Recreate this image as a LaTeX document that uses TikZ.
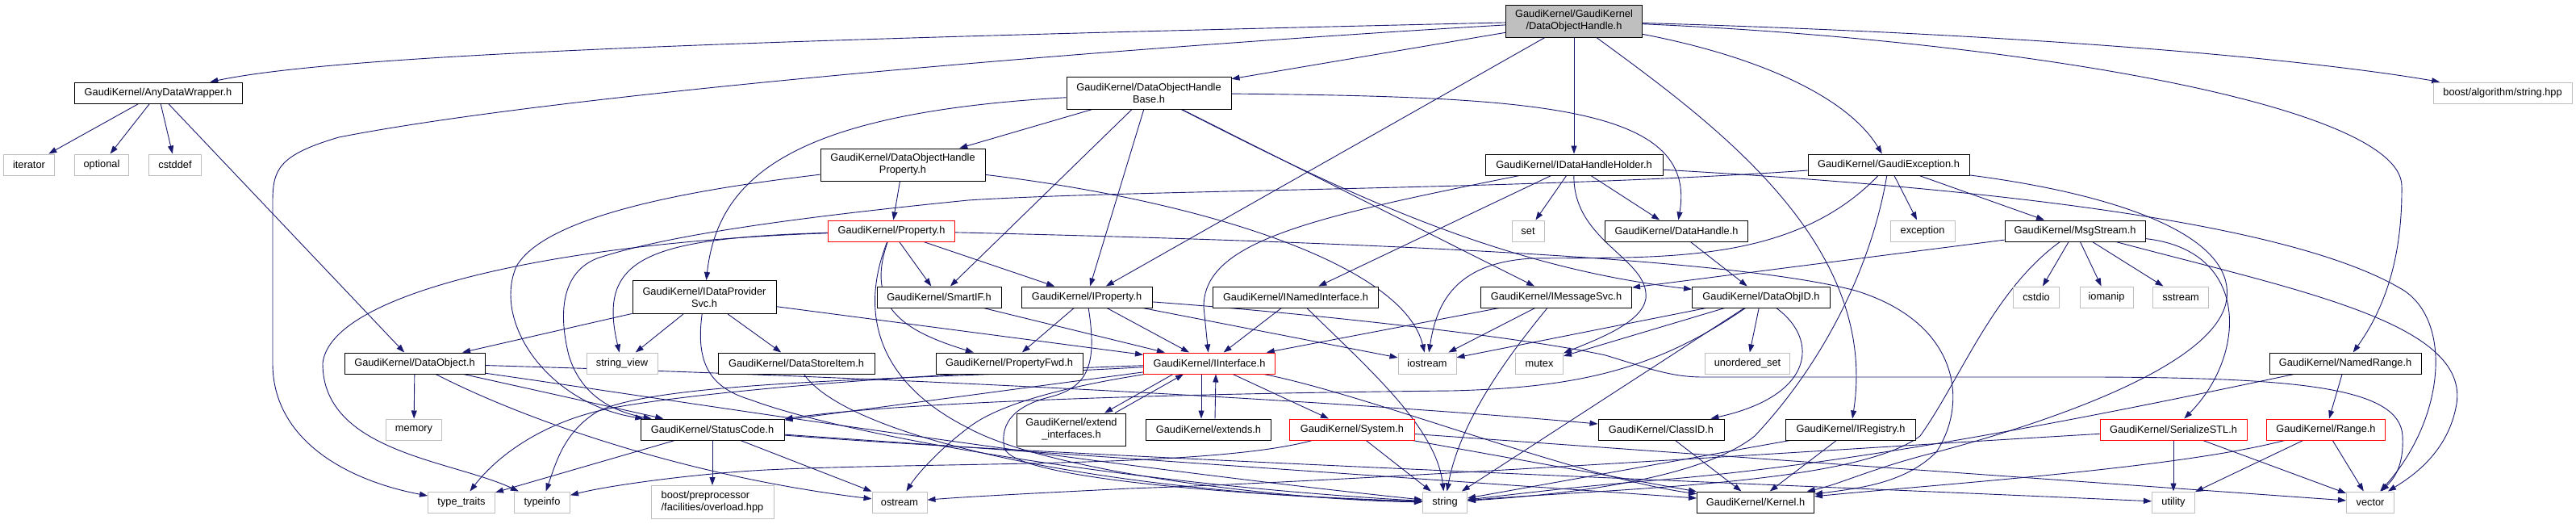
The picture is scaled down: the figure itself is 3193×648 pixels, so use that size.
\documentclass[tikz,border=0pt]{standalone}
\usepackage{fontspec}
\setmainfont{Liberation Sans}
\usetikzlibrary{arrows.meta,backgrounds}
\definecolor{edgecol}{HTML}{191970}
\definecolor{greyb}{HTML}{BFBFBF}
\definecolor{redb}{HTML}{FF0000}
\tikzset{
 box/.style={draw, line width=1pt, fill=white, inner sep=0pt, align=center, minimum height=26pt, font=\fontsize{12.8}{15}\selectfont},
 dnode/.style={box, draw=black},
 rnode/.style={box, draw=redb},
 gnode/.style={box, draw=greyb},
 mnode/.style={box, draw=black, fill=greyb},
 conn/.style={draw=edgecol, line width=0.9pt, -{Triangle[length=10pt,width=7pt]}},
}
\begin{document}
\begin{tikzpicture}[x=1pt,y=-1pt]
\useasboundingbox (0,0) rectangle (3193,648);
% row 1
\node[mnode, minimum width=169pt, minimum height=40pt] (main) at (1951,26) {GaudiKernel/GaudiKernel\\/DataObjectHandle.h};
% row 2
\node[dnode, minimum width=208pt] (adw) at (196,115) {GaudiKernel/AnyDataWrapper.h};
\node[dnode, minimum width=204pt, minimum height=40pt] (dohb) at (1424,115) {GaudiKernel/DataObjectHandle\\Base.h};
\node[gnode, minimum width=172pt] (boostalg) at (3102,115) {boost/algorithm/string.hpp};
% row 3
\node[gnode, minimum width=63pt] (iterator) at (36,204) {iterator};
\node[gnode, minimum width=67pt] (optional) at (126,204) {optional};
\node[gnode, minimum width=65pt] (cstddef) at (217,204) {cstddef};
\node[dnode, minimum width=204pt, minimum height=40pt] (dohp) at (1119,204) {GaudiKernel/DataObjectHandle\\Property.h};
\node[dnode, minimum width=220pt] (idhh) at (1951,204) {GaudiKernel/IDataHandleHolder.h};
\node[dnode, minimum width=200pt] (gexc) at (2341,204) {GaudiKernel/GaudiException.h};
% row 4
\node[rnode, minimum width=157pt] (property) at (1105,286) {GaudiKernel/Property.h};
\node[gnode, minimum width=40pt] (set) at (1894,286) {set};
\node[dnode, minimum width=177pt] (datahandle) at (2078,286) {GaudiKernel/DataHandle.h};
\node[gnode, minimum width=80pt] (exception) at (2383,286) {exception};
\node[dnode, minimum width=174pt] (msgstream) at (2572,286) {GaudiKernel/MsgStream.h};
% row 5
\node[dnode, minimum width=178pt, minimum height=41pt] (idps) at (873,368) {GaudiKernel/IDataProvider\\Svc.h};
\node[dnode, minimum width=154pt] (smartif) at (1164,368) {GaudiKernel/SmartIF.h};
\node[dnode, minimum width=162pt] (iproperty) at (1347,368) {GaudiKernel/IProperty.h};
\node[dnode, minimum width=205pt] (inamed) at (1606,368) {GaudiKernel/INamedInterface.h};
\node[dnode, minimum width=187pt] (imsgsvc) at (1929,368) {GaudiKernel/IMessageSvc.h};
\node[dnode, minimum width=171pt] (dataobjid) at (2183,368) {GaudiKernel/DataObjID.h};
\node[gnode, minimum width=57pt] (cstdio) at (2524,368) {cstdio};
\node[gnode, minimum width=66pt] (iomanip) at (2611,368) {iomanip};
\node[gnode, minimum width=69pt] (sstream) at (2703,368) {sstream};
% row 6
\node[dnode, minimum width=174pt] (dataobject) at (514,450) {GaudiKernel/DataObject.h};
\node[gnode, minimum width=88pt] (stringview) at (771,450) {string\_view};
\node[dnode, minimum width=194pt] (datastoreitem) at (987,450) {GaudiKernel/DataStoreItem.h};
\node[dnode, minimum width=182pt] (propertyfwd) at (1251,450) {GaudiKernel/PropertyFwd.h};
\node[rnode, minimum width=163pt] (iinterface) at (1499,450) {GaudiKernel/IInterface.h};
\node[gnode, minimum width=72pt] (iostream) at (1769,450) {iostream};
\node[gnode, minimum width=59pt] (mutex) at (1908,450) {mutex};
\node[gnode, minimum width=105pt] (unorderedset) at (2166,450) {unordered\_set};
\node[dnode, minimum width=188pt] (namedrange) at (2907,450) {GaudiKernel/NamedRange.h};
% row 7
\node[gnode, minimum width=69pt] (memory) at (513,532) {memory};
\node[dnode, minimum width=178pt] (statuscode) at (883,532) {GaudiKernel/StatusCode.h};
\node[dnode, minimum width=135pt, minimum height=40pt] (extendif) at (1328,532) {GaudiKernel/extend\\\_interfaces.h};
\node[dnode, minimum width=155pt] (extends) at (1498,532) {GaudiKernel/extends.h};
\node[rnode, minimum width=155pt] (system) at (1676,532) {GaudiKernel/System.h};
\node[dnode, minimum width=156pt] (classid) at (2059,532) {GaudiKernel/ClassID.h};
\node[dnode, minimum width=161pt] (iregistry) at (2294,532) {GaudiKernel/IRegistry.h};
\node[rnode, minimum width=182pt] (serializestl) at (2694,532) {GaudiKernel/SerializeSTL.h};
\node[rnode, minimum width=147pt] (range) at (2883,532) {GaudiKernel/Range.h};
% row 8
\node[gnode, minimum width=83pt] (typetraits) at (572,622) {type\_traits};
\node[gnode, minimum width=69pt] (typeinfo) at (672,622) {typeinfo};
\node[gnode, minimum width=152pt, minimum height=41pt, align=left] (boostpp) at (883,622) {boost/preprocessor\\/facilities/overload.hpp};
\node[gnode, minimum width=68pt] (ostream) at (1115,622) {ostream};
\node[gnode, minimum width=55pt] (string) at (1791,622) {string};
\node[dnode, minimum width=145pt] (kernel) at (2176,622) {GaudiKernel/Kernel.h};
\node[gnode, minimum width=53pt] (utility) at (2694,622) {utility};
\node[gnode, minimum width=59pt] (vector) at (2938,622) {vector};

\begin{scope}[on background layer]
% main
\draw[conn] (main) .. controls (900,50) and (420,68) .. (adw);
\draw[conn] (main) -- (dohb);
\draw[conn] (main) .. controls (2600,45) and (2900,80) .. (boostalg);
\draw[conn] (main) .. controls (1400,58) and (700,115) .. (420,170) .. controls (345,192) and (338,210) .. (338,250) -- (338,450) .. controls (338,545) and (430,595) .. (typetraits);
\draw[conn] (main) -- (iproperty);
\draw[conn] (main) -- (idhh);
\draw[conn] (main) .. controls (2120,150) and (2330,300) .. (iregistry);
\draw[conn] (main) .. controls (2180,70) and (2290,120) .. (gexc);
\draw[conn] (main) .. controls (2500,50) and (2975,130) .. (2977,230) .. controls (2978,330) and (2950,390) .. (namedrange);
% AnyDataWrapper
\draw[conn] (adw) -- (iterator);
\draw[conn] (adw) -- (optional);
\draw[conn] (adw) -- (cstddef);
\draw[conn] (adw) -- (dataobject);
% DataObjectHandleBase
\draw[conn] (dohb) -- (dohp);
\draw[conn] (dohb) .. controls (980,140) and (890,220) .. (idps);
\draw[conn] (dohb) -- (smartif);
\draw[conn] (dohb) -- (iproperty);
\draw[conn] (dohb) -- (imsgsvc);
\draw[conn] (dohb) .. controls (1650,230) and (1850,330) .. (dataobjid);
\draw[conn] (dohb) .. controls (1900,120) and (2105,130) .. (datahandle);
% DataObjectHandleProperty
\draw[conn] (dohp) -- (property);
\draw[conn] (dohp) .. controls (900,230) and (680,260) .. (640,330) .. controls (610,400) and (680,500) .. (statuscode);
\draw[conn] (dohp) .. controls (1500,250) and (1740,330) .. (iostream);
% Property
\draw[conn] (property) -- (smartif);
\draw[conn] (property) -- (iproperty);
\draw[conn] (property) .. controls (1072,380) and (1120,410) .. (propertyfwd);
\draw[conn] (property) .. controls (1060,400) and (1100,480) .. (1200,530) .. controls (1300,585) and (1600,620) .. (string);
\draw[conn] (property) .. controls (800,295) and (740,320) .. (stringview);
\draw[conn] (property) .. controls (700,300) and (410,360) .. (400,450) .. controls (400,560) and (560,570) .. (typeinfo);
\draw[conn] (property) .. controls (1700,300) and (2150,320) .. (2300,360) .. controls (2430,400) and (2440,500) .. (2400,560) .. controls (2360,600) and (2300,605) .. (kernel);
% IDataHandleHolder
\draw[conn] (idhh) -- (inamed);
\draw[conn] (idhh) -- (set);
\draw[conn] (idhh) -- (datahandle);
\draw[conn] (idhh) .. controls (1620,270) and (1492,300) .. (1492,380) -- (iinterface);
\draw[conn] (idhh) .. controls (1950,300) and (2045,320) .. (2040,370) .. controls (2035,400) and (1980,420) .. (mutex);
\draw[conn] (idhh) .. controls (2500,235) and (2850,280) .. (2980,360) .. controls (3040,400) and (3030,520) .. (vector);
% GaudiException
\draw[conn] (gexc) -- (exception);
\draw[conn] (gexc) -- (msgstream);
\draw[conn] (gexc) .. controls (2220,330) and (2050,318) .. (1900,320) .. controls (1800,325) and (1780,380) .. (iostream);
\draw[conn] (gexc) .. controls (2320,330) and (2260,450) .. (2175,540) .. controls (2100,600) and (1900,615) .. (string);
\draw[conn] (gexc) .. controls (2620,240) and (2770,290) .. (2760,370) .. controls (2750,450) and (2550,520) .. (2400,560) .. controls (2320,580) and (2280,600) .. (kernel);
\draw[conn] (gexc) .. controls (1900,235) and (1400,235) .. (1200,248) .. controls (1000,268) and (830,290) .. (740,320) .. controls (690,340) and (695,400) .. (705,440) .. controls (720,490) and (760,510) .. (statuscode);
% DataHandle
\draw[conn] (datahandle) -- (dataobjid);
% MsgStream
\draw[conn] (msgstream) -- (imsgsvc);
\draw[conn] (msgstream) -- (cstdio);
\draw[conn] (msgstream) -- (iomanip);
\draw[conn] (msgstream) -- (sstream);
\draw[conn] (msgstream) .. controls (2790,310) and (2785,440) .. (serializestl);
\draw[conn] (msgstream) .. controls (2850,360) and (3060,400) .. (3045,500) .. controls (3035,560) and (2990,590) .. (vector);
\draw[conn] (msgstream) .. controls (2470,360) and (2430,470) .. (2380,540) .. controls (2300,600) and (2000,605) .. (string);
% IDataProviderSvc
\draw[conn] (idps) -- (dataobject);
\draw[conn] (idps) -- (stringview);
\draw[conn] (idps) -- (datastoreitem);
\draw[conn] (idps) -- (iinterface);
\draw[conn] (idps) .. controls (862,450) and (880,480) .. (930,495) .. controls (1050,540) and (1400,600) .. (string);
% SmartIF
\draw[conn] (smartif) -- (iinterface);
% IProperty
\draw[conn] (iproperty) -- (propertyfwd);
\draw[conn] (iproperty) -- (iinterface);
\draw[conn] (iproperty) -- (iostream);
\draw[conn] (iproperty) .. controls (1650,390) and (1900,420) .. (1990,440) .. controls (2040,455) and (2070,467) .. (2110,467) -- (2600,467) .. controls (2850,468) and (2975,480) .. (2978,540) .. controls (2980,580) and (2965,595) .. (vector);
\draw[conn] (iproperty) .. controls (1360,450) and (1350,480) .. (1300,492) .. controls (1250,505) and (1240,530) .. (1245,555) .. controls (1255,590) and (1500,612) .. (string);
% INamedInterface
\draw[conn] (inamed) -- (iinterface);
\draw[conn] (inamed) .. controls (1700,460) and (1780,530) .. (string);
% IMessageSvc
\draw[conn] (imsgsvc) -- (iinterface);
\draw[conn] (imsgsvc) -- (iostream);
\draw[conn] (imsgsvc) .. controls (1870,440) and (1810,520) .. (string);
% DataObjID
\draw[conn] (dataobjid) -- (iostream);
\draw[conn] (dataobjid) -- (mutex);
\draw[conn] (dataobjid) -- (unorderedset);
\draw[conn] (dataobjid) -- (string);
\draw[conn] (dataobjid) .. controls (2255,420) and (2250,490) .. (classid);
\draw[conn] (dataobjid) .. controls (2050,460) and (1950,480) .. (1800,484) .. controls (1400,488) and (1100,500) .. (statuscode);
% DataObject
\draw[conn] (dataobject) -- (memory);
\draw[conn] (dataobject) -- (statuscode);
\draw[conn] (dataobject) .. controls (1200,470) and (1700,500) .. (classid);
\draw[conn] (dataobject) .. controls (650,520) and (850,590) .. (ostream);
\draw[conn] (dataobject) .. controls (800,490) and (1300,570) .. (string);
% DataStoreItem
\draw[conn] (datastoreitem) .. controls (1050,540) and (1350,610) .. (string);
% IInterface
\draw[conn] (iinterface) -- (statuscode);
\draw[conn] (iinterface) .. controls (1380,470) and (1250,490) .. (1200,530) .. controls (1160,560) and (1135,590) .. (ostream);
\draw[conn] (iinterface) .. controls (1200,460) and (900,480) .. (760,505) .. controls (680,520) and (620,560) .. (typetraits);
\draw[conn] (iinterface) .. controls (1150,470) and (820,470) .. (740,510) .. controls (700,535) and (690,570) .. (typeinfo);
\draw[conn] ([xshift=37pt]iinterface.south west) -- ([xshift=-27pt]extendif.north east);
\draw[conn] ([xshift=-14pt]extendif.north east) -- ([xshift=50pt]iinterface.south west);
\draw[conn] ([xshift=-10pt]iinterface.south) -- ([xshift=-9pt]extends.north);
\draw[conn] ([xshift=8pt]extends.north) -- ([xshift=8pt]iinterface.south);
\draw[conn] (iinterface) -- (system);
\draw[conn] (iinterface) .. controls (1700,490) and (1950,590) .. (kernel);
% System
\draw[conn] (system) -- (string);
\draw[conn] (system) -- (kernel);
\draw[conn] (system) -- (vector);
\draw[conn] (system) .. controls (1500,580) and (1150,572) .. (950,582) .. controls (870,586) and (760,600) .. (typeinfo);
% StatusCode
\draw[conn] (statuscode) -- (typetraits);
\draw[conn] (statuscode) -- (boostpp);
\draw[conn] (statuscode) -- (ostream);
\draw[conn] (statuscode) -- (kernel);
\draw[conn] (statuscode) .. controls (1300,565) and (2200,600) .. (utility);
% ClassID, IRegistry
\draw[conn] (classid) -- (kernel);
\draw[conn] (iregistry) -- (kernel);
\draw[conn] (iregistry) -- (string);
% NamedRange, Range, SerializeSTL
\draw[conn] (namedrange) -- (range);
\draw[conn] (namedrange) .. controls (2600,515) and (2300,575) .. (2050,595) .. controls (1950,603) and (1880,612) .. (string);
\draw[conn] (range) -- (utility);
\draw[conn] (range) -- (vector);
\draw[conn] (range) .. controls (2700,580) and (2400,600) .. (kernel);
\draw[conn] (serializestl) -- (utility);
\draw[conn] (serializestl) -- (vector);
\draw[conn] (serializestl) .. controls (2300,555) and (1700,595) .. (1400,605) .. controls (1300,610) and (1200,615) .. (ostream);
\end{scope}
\end{tikzpicture}
\end{document}
